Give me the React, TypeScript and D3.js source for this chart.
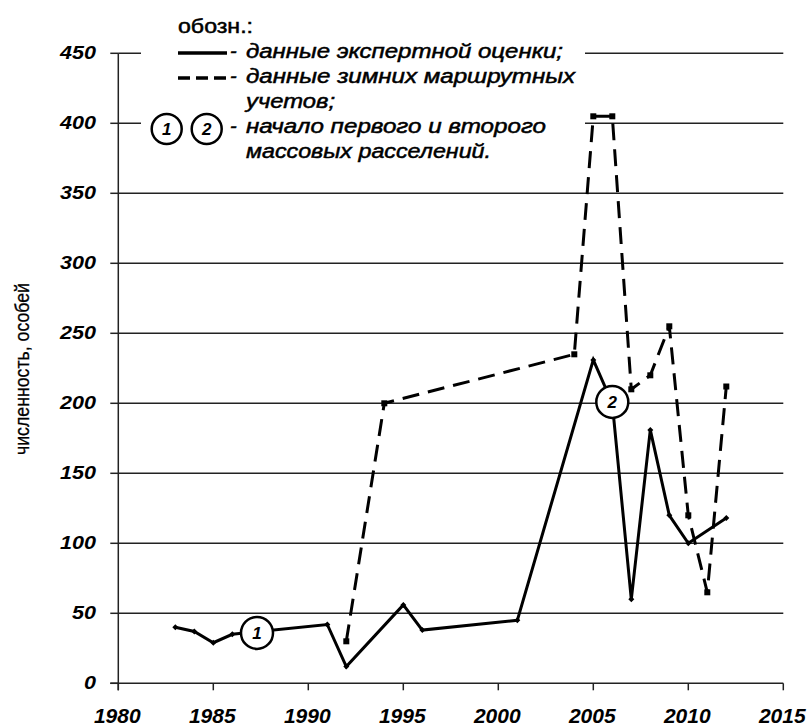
import React from 'react';
import * as d3 from 'd3';

// expert estimate (solid line)
const expertYears = [1983, 1984, 1985, 1986, 1991, 1992, 1995, 1996, 2001, 2005, 2006, 2007, 2008, 2009, 2010, 2012];
const expertValues = [40, 37, 29, 35, 42, 12, 56, 38, 45, 231, 200, 60, 181, 120, 100, 118];

// winter route counts (dashed line)
const winterYears = [1992, 1994, 2004, 2005, 2006, 2007, 2008, 2009, 2010, 2011, 2012];
const winterValues = [30, 200, 235, 405, 405, 210, 220, 255, 120, 65, 212];

// numbered circles: start of first and second mass releases
const releaseYears = [1987.3, 2006];
const releaseValues = [36, 201];
const releaseLabels = ['1', '2'];

const xTicks = [1980, 1985, 1990, 1995, 2000, 2005, 2010, 2015];
const yTicks = [0, 50, 100, 150, 200, 250, 300, 350, 400, 450];

const yTitle = 'численность, особей';
const legendHeader = 'обозн.:';
const legendRows = [
  'данные экспертной оценки;',
  'данные зимних маршрутных',
  'учетов;',
  'начало первого и второго',
  'массовых расселений.',
];

const FONT = '"Liberation Sans", Arial, sans-serif';

export default function App() {
  const width = 808;
  const height = 726;

  const x = d3.scaleLinear().domain([1980, 2015]).range([118.3, 783.3]);
  const y = d3.scaleLinear().domain([0, 450]).range([683.3, 53.3]);

  const line = d3
    .line<[number, number]>()
    .x((d) => x(d[0]))
    .y((d) => y(d[1]));

  const expert = expertYears.map((yr, i) => [yr, expertValues[i]] as [number, number]);
  const winter = winterYears.map((yr, i) => [yr, winterValues[i]] as [number, number]);

  const x0 = x.range()[0];
  const x1 = x.range()[1];
  const yBase = y(0);

  // legend rows geometry
  const rowY = (i: number) => 57.5 + i * 25;
  const rowLen = [317, 329, 89, 300, 245];

  return (
    <svg
      width={width}
      height={height}
      style={{ position: 'absolute', left: 0, top: 0, background: '#fff' }}
      fontFamily={FONT}
    >
      <rect x={0} y={0} width={width} height={height} fill="#fff" />

      {/* gridlines and y ticks */}
      {yTicks.map((t) => (
        <g key={'gy' + t}>
          {t > 0 && <line x1={x0} x2={x1} y1={y(t)} y2={y(t)} stroke="#222" strokeWidth={1.5} />}
          <line x1={x0 - 8} x2={x0} y1={y(t)} y2={y(t)} stroke="#222" strokeWidth={1.5} />
          <text
            x={96}
            y={y(t) + 6}
            textAnchor="end"
            fontSize={18}
            fontWeight="bold"
            fontStyle="italic"
            textLength={String(t).length * 12}
            lengthAdjust="spacingAndGlyphs"
          >
            {t}
          </text>
        </g>
      ))}

      {/* axes */}
      <line x1={x0} x2={x0} y1={y(450)} y2={yBase + 7} stroke="#222" strokeWidth={1.5} />
      <line x1={x0 - 8} x2={x1} y1={yBase} y2={yBase} stroke="#222" strokeWidth={1.5} />
      {xTicks.map((t) => (
        <g key={'gx' + t}>
          <line x1={x(t)} x2={x(t)} y1={yBase} y2={yBase + 7} stroke="#222" strokeWidth={1.5} />
          <text
            x={x(t) - 1}
            y={723}
            textAnchor="middle"
            fontSize={21}
            fontWeight="bold"
            fontStyle="italic"
          >
            {t}
          </text>
        </g>
      ))}

      {/* y axis title */}
      <text
        transform={`translate(29, 369) rotate(-90)`}
        textAnchor="middle"
        fontSize={21}
        textLength={172}
        lengthAdjust="spacingAndGlyphs"
        stroke="#000"
        strokeWidth={0.3}
      >
        {yTitle}
      </text>

      {/* legend background hides gridlines */}
      <rect x={141} y={0} width={444} height={170} fill="#fff" />

      {/* series */}
      <path d={line(winter) || ''} fill="none" stroke="#000" strokeWidth={3} strokeDasharray="17,9" />
      <path d={line(expert) || ''} fill="none" stroke="#000" strokeWidth={3} />
      {winter.map((d, i) => (
        <rect key={'wm' + i} x={x(d[0]) - 3} y={y(d[1]) - 3} width={6} height={6} fill="#000" />
      ))}
      {expert.map((d, i) => (
        <path
          key={'em' + i}
          d={`M${x(d[0])},${y(d[1]) - 3}L${x(d[0]) + 3},${y(d[1])}L${x(d[0])},${y(d[1]) + 3}L${x(d[0]) - 3},${y(d[1])}Z`}
          fill="#000"
        />
      ))}

      {/* release circles */}
      {releaseYears.map((yr, i) => (
        <g key={'rc' + i}>
          <circle cx={x(yr)} cy={y(releaseValues[i])} r={16} fill="#fff" stroke="#000" strokeWidth={2.5} />
          <text
            x={x(yr)}
            y={y(releaseValues[i]) + 6}
            textAnchor="middle"
            fontSize={17}
            fontWeight="bold"
            fontStyle="italic"
          >
            {releaseLabels[i]}
          </text>
        </g>
      ))}

      {/* legend */}
      <text
        x={178}
        y={33}
        fontSize={20}
        textLength={75}
        lengthAdjust="spacingAndGlyphs"
        stroke="#000"
        strokeWidth={0.5}
      >
        {legendHeader}
      </text>
      <line x1={178} x2={227} y1={53} y2={53} stroke="#000" strokeWidth={3.5} />
      <line x1={178} x2={227} y1={78} y2={78} stroke="#000" strokeWidth={3.5} strokeDasharray="12,6" />
      {[0, 1, 3].map((i) => (
        <text key={'ld' + i} x={230} y={rowY(i)} fontSize={20} fontStyle="italic" stroke="#000" strokeWidth={0.5}>
          -
        </text>
      ))}
      {legendRows.map((txt, i) => (
        <text
          key={'lr' + i}
          x={246}
          y={rowY(i)}
          fontSize={20}
          fontStyle="italic"
          textLength={rowLen[i]}
          lengthAdjust="spacingAndGlyphs"
          stroke="#000"
          strokeWidth={0.5}
        >
          {txt}
        </text>
      ))}
      {releaseLabels.map((lab, i) => (
        <g key={'lc' + i}>
          <circle cx={166.7 + i * 40} cy={129} r={15} fill="#fff" stroke="#000" strokeWidth={2.5} />
          <text
            x={166.7 + i * 40}
            y={135}
            textAnchor="middle"
            fontSize={17}
            fontWeight="bold"
            fontStyle="italic"
          >
            {lab}
          </text>
        </g>
      ))}
    </svg>
  );
}
